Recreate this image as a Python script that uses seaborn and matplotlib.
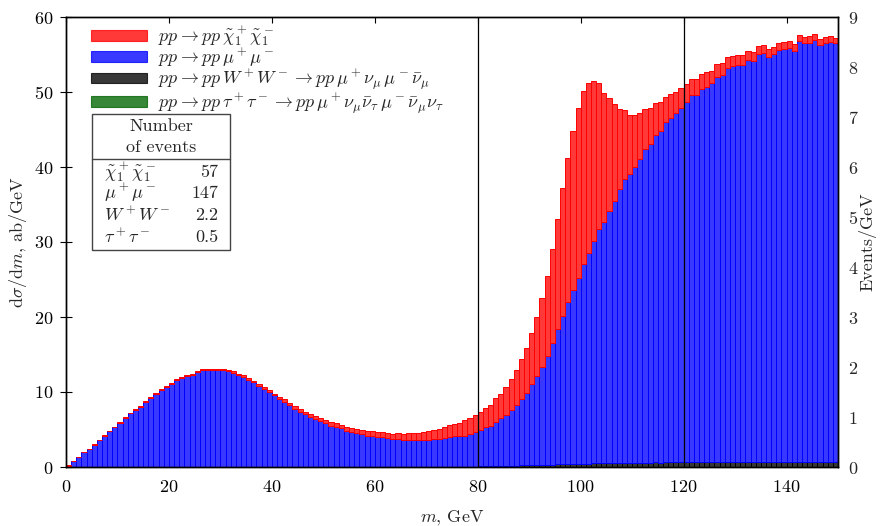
import matplotlib

matplotlib.use("Agg")

import matplotlib.pyplot as plt  # noqa: E402
import numpy as np  # noqa: E402
import pandas as pd  # noqa: E402
import seaborn as sns  # noqa: E402
from matplotlib.lines import Line2D  # noqa: E402
from matplotlib.patches import Patch, Rectangle  # noqa: E402

# 1 GeV bins, 0..150 GeV, values in ab/GeV
bin_edges = list(range(0, 151))

chi = [
    0.05, 0.05, 0.05, 0.05, 0.05, 0.1, 0.05, 0.05, 0.05, 0.05,
    0.1, 0.1, 0.05, 0.1, 0.1, 0.05, 0.1, 0.05, 0.05, 0.1,
    0.1, 0.1, 0.1, 0.1, 0.15, 0.1, 0.1, 0.1, 0.1, 0.15,
    0.13, 0.13, 0.23, 0.18, 0.26, 0.23, 0.22, 0.23, 0.22, 0.27,
    0.22, 0.27, 0.35, 0.26, 0.36, 0.31, 0.31, 0.36, 0.4, 0.4,
    0.4, 0.49, 0.54, 0.44, 0.53, 0.53, 0.54, 0.57, 0.71, 0.71,
    0.63, 0.62, 0.58, 0.71, 0.76, 0.76, 0.89, 0.89, 0.98, 1.07,
    1.12, 1.24, 1.29, 1.46, 1.6, 1.64, 1.78, 2.04, 2.13, 2.26,
    2.4, 2.53, 2.76, 3.16, 3.29, 3.69, 4.14, 4.62, 5.34, 6.0,
    6.75, 7.91, 9.2, 10.71, 12.49, 14.75, 16.98, 19.2, 21.16, 22.58,
    23.16, 22.67, 21.38, 19.47, 17.2, 14.98, 12.85, 10.67, 9.2, 7.91,
    6.89, 6.05, 5.29, 4.75, 4.27, 3.91, 3.42, 3.11, 2.88, 2.67,
    2.43, 2.22, 2.22, 2.04, 1.91, 1.68, 1.73, 1.6, 1.46, 1.33,
    1.33, 1.29, 1.2, 1.2, 1.06, 1.11, 1.07, 0.97, 0.89, 0.94,
    0.94, 0.94, 0.88, 0.89, 0.89, 0.76, 0.85, 0.84, 0.76, 0.71,
]

mumu = [
    0.2, 0.8, 1.3, 2.0, 2.4, 3.0, 3.6, 4.2, 4.8, 5.3,
    5.9, 6.6, 7.2, 7.6, 8.0, 8.7, 9.2, 9.8, 10.3, 10.7,
    11.1, 11.6, 11.9, 12.15, 12.25, 12.7, 12.9, 13.0, 13.0, 12.9,
    12.89, 12.8, 12.53, 12.22, 11.96, 11.64, 11.29, 10.84, 10.4, 10.04,
    9.56, 9.11, 8.67, 8.27, 7.73, 7.38, 7.07, 6.71, 6.4, 6.13,
    5.87, 5.51, 5.33, 5.16, 4.8, 4.67, 4.53, 4.36, 4.09, 4.09,
    4.02, 3.98, 3.89, 3.71, 3.71, 3.58, 3.58, 3.58, 3.58, 3.58,
    3.62, 3.67, 3.71, 3.85, 3.94, 4.07, 4.07, 4.16, 4.36, 4.62,
    4.83, 5.18, 5.39, 5.86, 6.34, 6.76, 7.46, 8.07, 8.8, 9.59,
    10.82, 11.86, 13.09, 14.49, 16.25, 18.01, 19.81, 21.57, 23.19, 24.81,
    26.57, 28.03, 29.65, 31.2, 32.21, 33.67, 34.99, 36.49, 37.86, 38.47,
    39.48, 40.54, 41.82, 42.48, 43.62, 44.2, 45.35, 45.96, 46.54, 47.28,
    47.99, 48.92, 48.91, 49.71, 50.05, 50.51, 51.29, 51.56, 52.49, 52.79,
    52.89, 52.92, 53.53, 53.41, 54.38, 54.46, 53.93, 54.37, 54.89, 55.03,
    55.11, 54.71, 56.04, 55.78, 55.86, 56.21, 55.51, 55.77, 55.99, 55.78,
]

ww = [0.0] * 78 + [
    0.02, 0.03,
    0.05, 0.06, 0.07, 0.09, 0.1, 0.12, 0.13, 0.15, 0.17, 0.18,
    0.2, 0.22, 0.24, 0.26, 0.28, 0.3, 0.32, 0.34, 0.36, 0.38,
    0.4, 0.41, 0.43, 0.44, 0.45, 0.46, 0.47, 0.48, 0.49, 0.5,
    0.51, 0.52, 0.53, 0.54, 0.55, 0.55, 0.56, 0.57, 0.57, 0.58,
    0.58, 0.59, 0.6, 0.6, 0.61, 0.6, 0.62, 0.61, 0.62, 0.63,
    0.62, 0.63, 0.64, 0.63, 0.64, 0.65, 0.64, 0.65, 0.66, 0.65,
    0.66, 0.66, 0.67, 0.66, 0.67, 0.67, 0.66, 0.67, 0.67, 0.66,
]

tautau = [0.0] * 60 + [
    0.01, 0.01, 0.02, 0.02, 0.02, 0.02, 0.02, 0.02, 0.02, 0.02,
    0.02, 0.03, 0.02, 0.02, 0.03, 0.02, 0.02, 0.02, 0.02, 0.02,
    0.04, 0.05, 0.05, 0.05, 0.05, 0.05, 0.06, 0.05, 0.05, 0.05,
    0.05, 0.05, 0.06, 0.05, 0.05, 0.05, 0.05, 0.06, 0.05, 0.05,
    0.05, 0.05, 0.05, 0.06, 0.05, 0.05, 0.05, 0.05, 0.05, 0.06,
    0.05, 0.05, 0.05, 0.05, 0.06, 0.05, 0.05, 0.05, 0.05, 0.05,
    0.06, 0.05, 0.05, 0.05, 0.05, 0.05, 0.06, 0.05, 0.05, 0.05,
    0.05, 0.05, 0.05, 0.06, 0.05, 0.05, 0.05, 0.05, 0.05, 0.05,
    0.05, 0.06, 0.05, 0.05, 0.05, 0.05, 0.05, 0.05, 0.06, 0.05,
]

processes = ["chi", "mumu", "ww", "tautau"]
labels = [
    r"$pp \to pp\,\tilde{\chi}_1^+\tilde{\chi}_1^-$",
    r"$pp \to pp\,\mu^+\mu^-$",
    r"$pp \to pp\,W^+W^- \to pp\,\mu^+\nu_\mu\,\mu^-\bar{\nu}_\mu$",
    r"$pp \to pp\,\tau^+\tau^- \to pp\,\mu^+\nu_\mu\bar{\nu}_\tau\,"
    r"\mu^-\bar{\nu}_\mu\nu_\tau$",
]
colors = ["red", "blue", "black", "darkgreen"]

table_rows = [
    (r"$\tilde{\chi}_1^+\tilde{\chi}_1^-$", "57"),
    (r"$\mu^+\mu^-$", "147"),
    (r"$W^+W^-$", "2.2"),
    (r"$\tau^+\tau^-$", "0.5"),
]

events_per_ab = 0.15  # right axis scale: Events/GeV per ab/GeV
FS = 13

sns.set_theme(style="ticks")
plt.rcParams["font.family"] = ["cmr10", "DejaVu Serif"]
plt.rcParams["mathtext.fontset"] = "cm"
plt.rcParams["axes.formatter.use_mathtext"] = True
plt.rcParams["axes.edgecolor"] = "black"
plt.rcParams["axes.linewidth"] = 1.0

centers = np.array(bin_edges[:-1]) + 0.5
df = pd.DataFrame({
    "m": np.tile(centers, 4),
    "w": chi + mumu + ww + tautau,
    "process": np.repeat(processes, len(centers)),
})

fig = plt.figure(figsize=(8.8, 5.26), dpi=100)
ax = fig.add_axes([66 / 880, 59 / 526, 772 / 880, 450 / 526])

sns.histplot(
    data=df, x="m", weights="w", hue="process", hue_order=processes,
    bins=bin_edges, multiple="stack", palette=dict(zip(processes, colors)),
    alpha=0.78, linewidth=0.7, legend=False, ax=ax,
)
for p in ax.patches:
    fc = p.get_facecolor()
    p.set_edgecolor((fc[0], fc[1], fc[2], 1.0))

ax.axvline(80, color="black", lw=0.9)
ax.axvline(120, color="black", lw=0.9)

ax.set_xlim(0, 150)
ax.set_ylim(0, 60)
ax.set_xticks(range(0, 141, 20))
ax.set_yticks(range(0, 61, 10))
ax.tick_params(axis="x", direction="in", top=True, bottom=False,
               labelbottom=True, length=4.5, width=0.8, labelsize=FS,
               colors="black", pad=9)
ax.tick_params(axis="y", direction="inout", left=True, right=False,
               length=8, width=0.8, labelsize=FS, colors="black", pad=5)
ax.set_xlabel(r"$m$, GeV", fontsize=FS, labelpad=9)
ax.set_ylabel(r"d$\sigma$/d$m$, ab/GeV", fontsize=FS, labelpad=4)

ax2 = ax.twinx()
ax2.set_ylim(0, 60 * events_per_ab)
ax2.set_yticks(range(0, 10))
ax2.tick_params(direction="in", length=0, labelsize=FS, pad=7)
ax2.set_ylabel("Events/GeV", fontsize=FS, labelpad=0)

handles = [
    Patch(facecolor=c, edgecolor=c, alpha=0.78, lw=0.8) for c in colors
]
ax.legend(
    handles, labels, loc="upper left", bbox_to_anchor=(0.032, 0.983),
    frameon=False, fontsize=FS, handlelength=3.1, handleheight=0.55,
    handletextpad=0.6, labelspacing=-0.1, borderaxespad=0, borderpad=0,
)


# "Number of events" box, placed in figure pixels
def fx(px):
    return px / 880


def fy(py):
    return 1 - py / 526


fig.add_artist(Rectangle((fx(92), fy(250)), fx(230) - fx(92),
                         fy(114) - fy(250), transform=fig.transFigure,
                         fill=False, ec="#444444", lw=1.0))
fig.add_artist(Line2D([fx(92), fx(230)], [fy(159), fy(159)],
                      transform=fig.transFigure, color="#444444", lw=1.0))
fig.text(fx(161), fy(126), "Number", ha="center", va="center", fontsize=FS)
fig.text(fx(161), fy(147), "of events", ha="center", va="center",
         fontsize=FS)
for (name, val), yy in zip(table_rows, [172, 193, 215, 237]):
    fig.text(fx(104), fy(yy), name, ha="left", va="center", fontsize=FS)
    fig.text(fx(218), fy(yy), val, ha="right", va="center", fontsize=FS)

fig.savefig("out.png", dpi=100)
